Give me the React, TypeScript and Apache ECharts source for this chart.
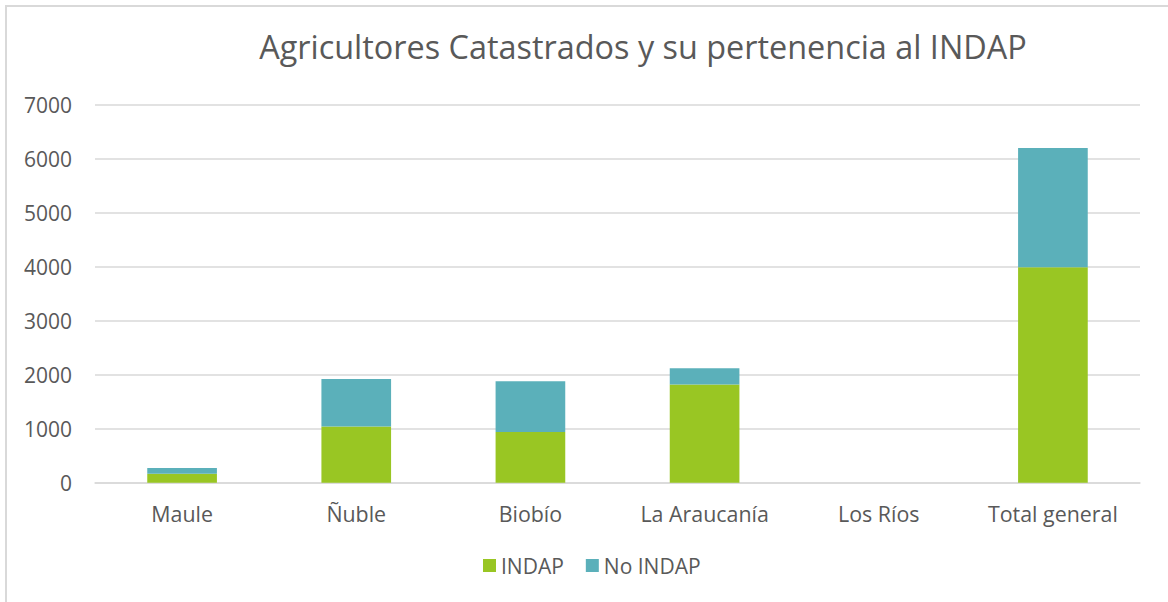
import React, { useEffect, useRef } from "react";
import * as echarts from "echarts";

const categories = ["Maule", "Ñuble", "Biobío", "La Araucanía", "Los Ríos", "Total general"];
const indap = [165, 1040, 940, 1820, 0, 3990];
const noIndap = [105, 880, 940, 300, 0, 2210];
const yTicks = { min: 0, max: 7000, interval: 1000 };

const TEXT = "#595959";
const FONT = "'Open Sans', sans-serif";

export default function App() {
  const ref = useRef<HTMLDivElement>(null);
  useEffect(() => {
    if (!ref.current) return;
    const chart = echarts.init(ref.current, null, { renderer: "svg" });
    chart.setOption({
      animation: false,
      textStyle: { fontFamily: FONT },
      title: {
        text: "Agricultores Catastrados y su pertenencia al INDAP",
        left: 638,
        top: 25,
        textAlign: "center",
        textStyle: { fontFamily: FONT, fontSize: 32.4, fontWeight: "normal", color: TEXT },
      },
      graphic: [
        { type: "line", shape: { x1: 5, y1: 6, x2: 1168, y2: 6 }, style: { stroke: "#D9D9D9", lineWidth: 2 } },
        { type: "line", shape: { x1: 6, y1: 5, x2: 6, y2: 602 }, style: { stroke: "#D9D9D9", lineWidth: 2 } },
      ],
      grid: { left: 95, right: 28, top: 104.7, bottom: 119.3, containLabel: false },
      legend: {
        bottom: 21,
        left: 478,
        itemWidth: 13,
        itemHeight: 13,
        itemGap: 22,
        icon: "rect",
        textStyle: { fontFamily: FONT, fontSize: 21, color: TEXT },
        data: ["INDAP", "No INDAP"],
      },
      xAxis: {
        type: "category",
        data: categories,
        axisLine: { lineStyle: { color: "#D9D9D9", width: 1.5 } },
        axisTick: { show: false },
        axisLabel: { fontFamily: FONT, fontSize: 21.4, color: TEXT, margin: 20 },
      },
      yAxis: {
        type: "value",
        min: yTicks.min,
        max: yTicks.max,
        interval: yTicks.interval,
        axisLine: { show: false },
        axisTick: { show: false },
        splitLine: { lineStyle: { color: "#D9D9D9", width: 1.5 } },
        axisLabel: {
          fontFamily: FONT,
          fontSize: 21,
          color: TEXT,
          margin: 23,
          formatter: (v: number) => String(v),
        },
      },
      series: [
        {
          name: "INDAP",
          type: "bar",
          stack: "total",
          data: indap,
          barWidth: "40%",
          itemStyle: { color: "#99C623" },
        },
        {
          name: "No INDAP",
          type: "bar",
          stack: "total",
          data: noIndap,
          barWidth: "40%",
          itemStyle: { color: "#5BB0BA" },
        },
      ],
    });
    return () => chart.dispose();
  }, []);
  return (
    <div
      ref={ref}
      style={{ position: "absolute", left: 0, top: 0, width: 1168, height: 602, background: "#fff" }}
    />
  );
}
